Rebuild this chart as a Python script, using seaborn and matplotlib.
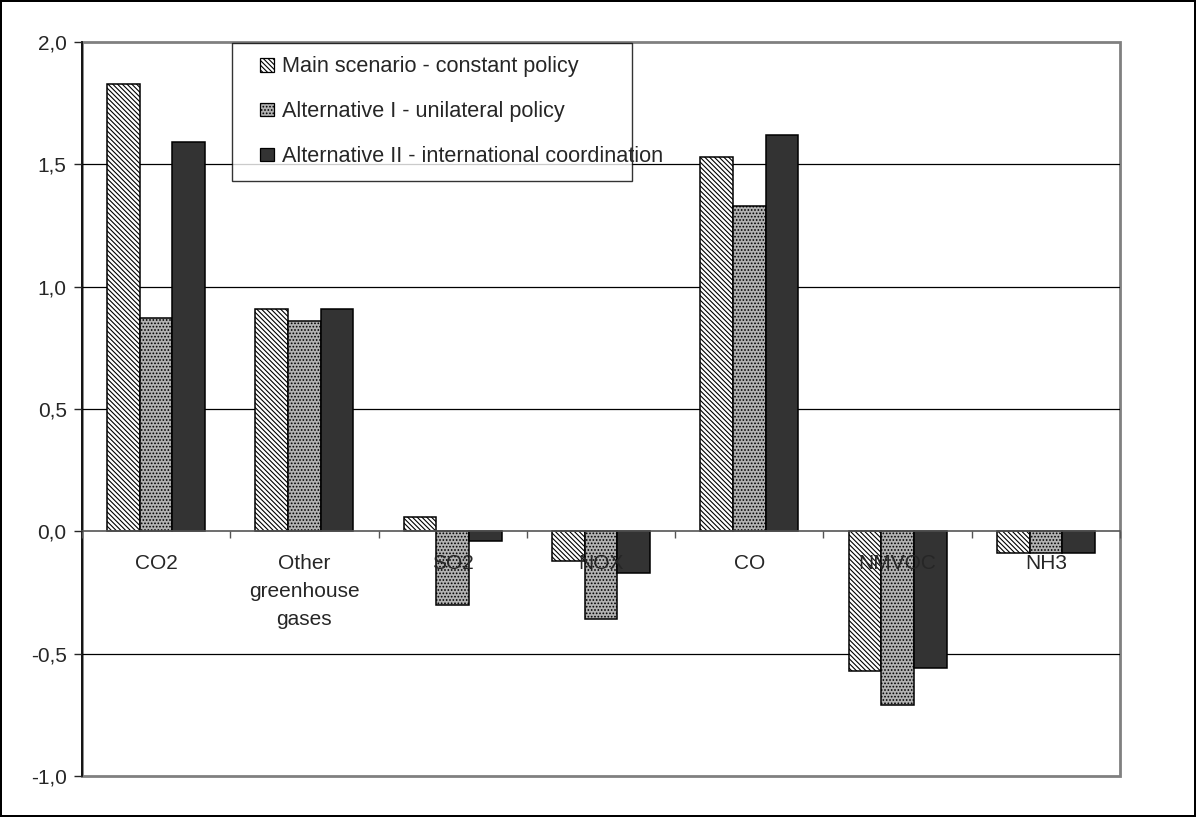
import pandas as pd
import matplotlib
matplotlib.use("Agg")
import matplotlib.pyplot as plt
import seaborn as sns
from matplotlib.ticker import FixedLocator, FuncFormatter
from matplotlib.container import BarContainer
from matplotlib.legend_handler import HandlerPatch
from matplotlib.patches import Rectangle

# -----------------------------
# Data
# -----------------------------
categories = ["CO2", "Other\ngreenhouse\ngases", "SO2", "NOX", "CO", "NMVOC", "NH3"]
series_names = ["Main scenario - constant policy",
                "Alternative I - unilateral policy",
                "Alternative II - international coordination"]
main_scenario = [1.83, 0.91, 0.06, -0.12, 1.53, -0.57, -0.09]
alternative_1 = [0.87, 0.86, -0.30, -0.36, 1.33, -0.71, -0.09]
alternative_2 = [1.59, 0.91, -0.04, -0.17, 1.62, -0.56, -0.09]
y_ticks = [-1.0, -0.5, 0.0, 0.5, 1.0, 1.5, 2.0]

df = pd.DataFrame({
    "category": categories * 3,
    "series": [series_names[0]] * 7 + [series_names[1]] * 7 + [series_names[2]] * 7,
    "value": main_scenario + alternative_1 + alternative_2,
})

# -----------------------------
# Setup
# -----------------------------
sns.set_style("white")
plt.rcParams["font.family"] = ["Liberation Sans", "DejaVu Sans"]
plt.rcParams["hatch.linewidth"] = 0.8

fig = plt.figure(figsize=(11.96, 8.17), dpi=100)
fig.patch.set_edgecolor("black")
fig.patch.set_linewidth(1.5)
ax = fig.add_axes([82 / 1196, 1 - 776 / 817, (1120 - 82) / 1196, (776 - 42) / 817])

face = ["white", "#b2b2b2", "#333333"]
hatches = ["\\" * 7, "." * 5, ""]

sns.barplot(data=df, x="category", y="value", hue="series", order=categories,
            hue_order=series_names, palette=face, width=0.66,
            edgecolor="black", linewidth=1.1, saturation=1, ax=ax, legend=False)

for cont, h in zip(ax.containers, hatches):
    for p in cont.patches:
        p.set_hatch(h)

# -----------------------------
# Axes styling
# -----------------------------
ax.set_axisbelow(False)
ax.set_ylim(-1.0, 2.0)
ax.set_xlim(-0.5, 6.5)
ax.set_yticks(y_ticks)
ax.yaxis.set_major_formatter(FuncFormatter(lambda v, _: f"{v:.1f}".replace(".", ",")))
ax.tick_params(axis="y", left=True, length=6, width=1, labelsize=15, pad=5)

for y in [-0.5, 0.5, 1.0, 1.5]:
    ax.axhline(y, color="black", lw=0.9, zorder=0)

ax.patch.set_edgecolor("#808080")
ax.patch.set_linewidth(2)
for s in ["top", "right"]:
    ax.spines[s].set_visible(False)
ax.spines["left"].set_color("black")
ax.spines["left"].set_linewidth(1.2)
ax.spines["bottom"].set_position(("data", 0))
ax.spines["bottom"].set_color("#555555")
ax.spines["bottom"].set_linewidth(1.2)
ax.set_xticks(range(len(categories)))
ax.set_xticklabels(categories, linespacing=1.62)
ax.xaxis.set_minor_locator(FixedLocator([i + 0.5 for i in range(-1, 7)]))
ax.tick_params(axis="x", which="minor", bottom=True, length=5, width=1, color="#555555")
ax.tick_params(axis="x", which="major", bottom=False, length=0, labelsize=15, pad=16)
ax.set_xlabel("")
ax.set_ylabel("")


# small square legend keys sitting at the right end of the key box
def square_key(legend, orig_handle, xdescent, ydescent, width, height, fontsize):
    return Rectangle((-xdescent + width - height, -ydescent), height, height)


def copy_first(legend_handle, orig_handle):
    p = orig_handle.patches[0]
    legend_handle.update_from(p)
    legend_handle.set_linewidth(0.9)


leg = ax.legend(handles=ax.containers, labels=series_names,
                loc="upper left",
                bbox_to_anchor=(232 / 1196, 1 - 43 / 817, 400 / 1196, 0.0),
                bbox_transform=fig.transFigure, mode="expand",
                fontsize=15.6, frameon=True, fancybox=False, shadow=False,
                borderaxespad=0, borderpad=0.62, labelspacing=1.1,
                handlelength=1.3, handleheight=0.58, handletextpad=0.38,
                handler_map={BarContainer: HandlerPatch(patch_func=square_key,
                                                        update_func=copy_first)})
leg.get_frame().set_edgecolor("black")
leg.get_frame().set_linewidth(1)
leg.set_zorder(5)

fig.savefig("out.png", dpi=100)
